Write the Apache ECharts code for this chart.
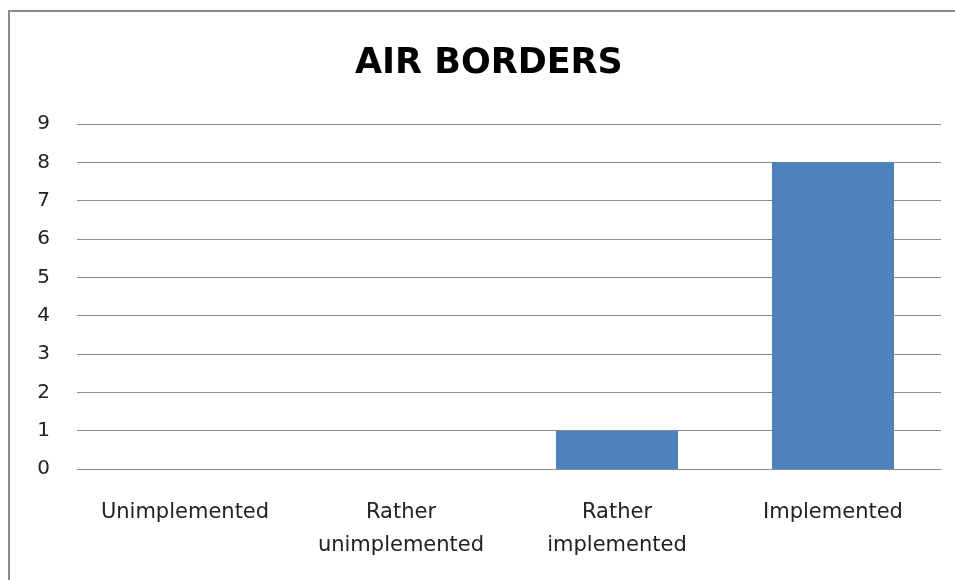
<!DOCTYPE html>
<html>
<head>
<meta charset="utf-8">
<script src="https://cdn.jsdelivr.net/npm/echarts@6/dist/echarts.min.js"></script>
<style>
  html, body { margin: 0; padding: 0; background: #fff; }
  #frame { position: absolute; left: 8px; top: 10px; width: 960px; height: 600px; border: 2px solid #8c8c8c; box-sizing: border-box; }
  #chart { position: absolute; left: 0; top: 0; width: 955px; height: 580px; }
</style>
</head>
<body>
<div id="frame"></div>
<div id="chart"></div>
<script>
// categories and values
const categories = ['Unimplemented', 'Rather\nunimplemented', 'Rather\nimplemented', 'Implemented']
const counts = [0, 0, 1, 8]
const yTicks = [0, 9, 1] // min, max, step

const chart = echarts.init(document.getElementById('chart'))
chart.setOption({
  animation: false,
  title: {
    text: 'AIR BORDERS',
    left: 350,
    top: 41,
    textStyle: { fontFamily: 'DejaVu Sans', fontSize: 35, fontWeight: 'bold', color: '#000' }
  },
  grid: { left: 77, right: 14, top: 124, bottom: 111 },
  xAxis: {
    type: 'category',
    data: categories,
    axisLine: { show: true, lineStyle: { color: '#8c8c8c', width: 1 } },
    axisTick: { show: false },
    axisLabel: { color: '#222', fontFamily: 'DejaVu Sans', fontSize: 21, lineHeight: 33, margin: 27, interval: 0 }
  },
  yAxis: {
    type: 'value',
    min: yTicks[0],
    max: yTicks[1],
    interval: yTicks[2],
    axisLine: { show: false },
    axisTick: { show: false },
    axisLabel: { color: '#222', fontFamily: 'DejaVu Sans', fontSize: 20, margin: 27 },
    splitLine: { lineStyle: { color: '#8c8c8c', width: 1 } }
  },
  series: [
    {
      type: 'bar',
      data: counts,
      barWidth: '56.5%',
      itemStyle: { color: '#4f81bd' }
    }
  ]
})
</script>
</body>
</html>
